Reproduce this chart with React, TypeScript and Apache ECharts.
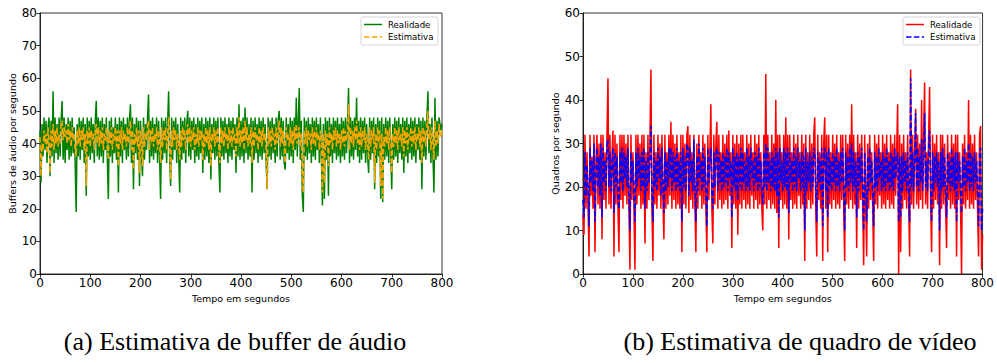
import React, { useEffect, useRef } from "react";
import * as echarts from "echarts";

// Sampling instants (seconds), one every 2 s from 0 to 800
const seconds: number[] = Array.from({ length: 401 }, (_, i) => i * 2);

// (a) audio buffers per second — real
const audioReal: number[] = [
  44, 28, 46, 36, 48, 38, 47, 34, 45, 48, 30, 47, 36, 56, 34, 48, 37, 46, 35, 48,
  36, 47, 53, 35, 48, 34, 46, 38, 48, 35, 47, 36, 48, 37, 45, 34, 19, 46, 36, 48,
  35, 47, 38, 48, 34, 46, 24, 48, 36, 47, 35, 48, 37, 46, 34, 47, 53, 36, 48, 35,
  47, 36, 48, 34, 46, 38, 48, 35, 23, 47, 36, 48, 34, 45, 37, 48, 35, 46, 25, 48,
  36, 47, 34, 48, 38, 46, 35, 48, 36, 47, 52, 34, 48, 26, 46, 37, 48, 35, 47, 27,
  47, 36, 30, 48, 35, 46, 38, 48, 55, 34, 47, 36, 48, 35, 46, 37, 48, 34, 47, 36,
  23, 48, 35, 47, 37, 48, 34, 46, 56, 36, 27, 48, 35, 47, 38, 48, 34, 46, 36, 25,
  48, 35, 47, 37, 48, 34, 46, 50, 36, 48, 35, 47, 38, 48, 34, 46, 36, 48, 35, 47,
  37, 48, 31, 46, 35, 48, 36, 47, 34, 48, 29, 46, 37, 48, 35, 47, 36, 48, 34, 25,
  48, 36, 47, 35, 48, 37, 46, 34, 48, 36, 47, 35, 48, 38, 46, 31, 48, 36, 52, 35,
  47, 36, 48, 34, 51, 37, 48, 35, 46, 36, 48, 25, 47, 35, 48, 37, 46, 34, 48, 36,
  47, 35, 48, 37, 46, 34, 26, 48, 36, 47, 35, 48, 37, 46, 34, 48, 36, 47, 50, 35,
  48, 36, 47, 34, 32, 48, 37, 46, 35, 48, 36, 47, 34, 48, 38, 54, 36, 47, 57, 35,
  47, 24, 19, 48, 36, 47, 35, 48, 37, 46, 34, 48, 36, 47, 35, 48, 38, 46, 34, 48,
  36, 21, 46, 23, 48, 35, 47, 24, 48, 36, 46, 34, 48, 37, 47, 35, 48, 36, 46, 34,
  48, 36, 47, 35, 48, 37, 46, 57, 34, 48, 36, 47, 35, 48, 38, 54, 36, 47, 34, 48,
  35, 47, 37, 48, 34, 46, 36, 31, 48, 35, 47, 37, 48, 26, 46, 34, 48, 36, 47, 23,
  48, 22, 46, 35, 48, 36, 47, 34, 48, 37, 26, 46, 35, 48, 36, 47, 34, 48, 37, 46,
  35, 48, 31, 47, 36, 48, 34, 46, 37, 48, 35, 47, 36, 48, 34, 46, 38, 48, 35, 47,
  26, 48, 36, 47, 35, 48, 56, 37, 46, 34, 48, 36, 25, 54, 35, 47, 36, 48, 46, 44,
  46,
];
// (a) audio buffers per second — estimate
const audioEst: number[] = [
  42, 30, 40, 38, 44, 40, 43, 37, 45, 41, 31, 44, 39, 46, 38, 44, 40, 45, 39, 43,
  40, 46, 47, 41, 45, 42, 44, 40, 46, 41, 44, 39, 45, 41, 43, 38, 36, 44, 40, 45,
  39, 44, 41, 45, 38, 43, 27, 44, 40, 45, 39, 44, 41, 43, 38, 44, 46, 40, 45, 39,
  44, 40, 45, 38, 43, 41, 45, 39, 35, 44, 40, 45, 38, 43, 41, 45, 39, 44, 33, 44,
  40, 45, 38, 44, 41, 43, 39, 45, 40, 44, 47, 38, 44, 32, 43, 40, 45, 39, 44, 31,
  44, 40, 33, 45, 39, 43, 41, 45, 47, 38, 44, 40, 45, 39, 43, 41, 45, 38, 44, 40,
  34, 45, 39, 44, 41, 45, 38, 43, 48, 40, 29, 44, 39, 45, 41, 44, 38, 43, 40, 35,
  44, 39, 45, 41, 44, 38, 43, 46, 40, 45, 39, 44, 41, 45, 38, 43, 40, 45, 39, 44,
  41, 44, 35, 43, 39, 45, 40, 44, 38, 45, 33, 43, 41, 45, 39, 44, 40, 45, 38, 34,
  45, 40, 44, 39, 45, 41, 43, 38, 45, 40, 44, 39, 45, 41, 43, 36, 45, 40, 48, 39,
  44, 40, 45, 38, 47, 41, 45, 39, 43, 40, 45, 34, 44, 39, 45, 41, 43, 38, 45, 40,
  44, 39, 45, 41, 43, 38, 26, 45, 40, 44, 39, 45, 41, 43, 38, 45, 40, 44, 47, 39,
  45, 40, 44, 38, 34, 45, 41, 43, 39, 45, 40, 44, 38, 45, 41, 46, 40, 44, 45, 39,
  43, 30, 25, 44, 40, 45, 39, 44, 41, 43, 38, 45, 40, 44, 39, 45, 41, 43, 38, 44,
  40, 25, 43, 28, 44, 39, 43, 33, 45, 40, 43, 38, 44, 41, 45, 39, 44, 40, 43, 38,
  44, 40, 45, 39, 44, 41, 43, 52, 38, 45, 40, 44, 39, 45, 41, 47, 40, 44, 38, 45,
  39, 44, 41, 45, 38, 43, 40, 35, 45, 39, 44, 41, 45, 28, 43, 38, 45, 40, 44, 27,
  43, 23, 42, 39, 45, 40, 44, 38, 45, 41, 31, 43, 39, 45, 40, 44, 38, 45, 41, 43,
  39, 45, 36, 44, 40, 45, 38, 43, 41, 45, 39, 44, 40, 45, 38, 43, 41, 45, 39, 44,
  34, 45, 40, 44, 39, 45, 50, 41, 44, 38, 45, 40, 35, 47, 39, 44, 40, 46, 43, 42,
  44,
];

// (b) video frames per second — real
const videoReal: number[] = [
  14, 9, 32, 15, 28, 16, 4, 32, 18, 27, 15, 32, 5, 26, 32, 16, 30, 15, 32, 8,
  32, 17, 28, 15, 32, 45, 16, 32, 15, 27, 33, 4, 32, 16, 30, 15, 5, 32, 17, 32,
  15, 32, 18, 30, 16, 32, 15, 1, 32, 17, 28, 15, 1, 32, 16, 32, 18, 30, 15, 32,
  16, 32, 7, 28, 15, 32, 17, 30, 47, 15, 3, 32, 16, 28, 15, 32, 18, 30, 15, 32,
  17, 8, 32, 15, 28, 16, 32, 18, 35, 15, 32, 17, 30, 15, 32, 16, 28, 15, 32, 5,
  32, 16, 30, 15, 32, 34, 14, 32, 17, 28, 15, 32, 16, 5, 30, 15, 32, 18, 28, 15,
  32, 16, 30, 15, 5, 32, 17, 28, 39, 15, 7, 32, 16, 30, 35, 15, 32, 17, 28, 15,
  32, 16, 30, 17, 32, 15, 33, 18, 28, 6, 32, 16, 30, 15, 32, 9, 30, 16, 32, 15,
  32, 17, 28, 15, 32, 16, 30, 15, 32, 18, 28, 15, 32, 17, 30, 15, 32, 16, 28, 15,
  10, 32, 16, 46, 15, 32, 17, 28, 15, 32, 16, 30, 15, 40, 14, 32, 6, 32, 17, 28,
  15, 32, 16, 36, 15, 32, 8, 32, 17, 28, 15, 32, 16, 30, 15, 32, 18, 28, 15, 32,
  16, 30, 3, 32, 15, 28, 17, 32, 15, 30, 16, 32, 36, 15, 4, 32, 17, 28, 15, 32,
  3, 30, 36, 15, 32, 5, 32, 16, 28, 15, 32, 17, 30, 15, 32, 16, 28, 15, 32, 17,
  32, 15, 3, 32, 16, 30, 15, 32, 17, 39, 15, 32, 16, 28, 6, 32, 15, 30, 17, 32,
  15, 2, 32, 16, 4, 30, 15, 32, 17, 28, 15, 3, 32, 16, 30, 15, 32, 18, 28, 15,
  32, 16, 30, 15, 32, 17, 28, 15, 32, 16, 30, 15, 32, 18, 28, 39, 0, 32, 5, 30,
  15, 32, 17, 28, 15, 32, 16, 4, 47, 16, 32, 15, 28, 38, 16, 32, 15, 30, 17, 40,
  15, 32, 44, 16, 28, 15, 32, 43, 16, 5, 32, 15, 30, 17, 32, 16, 28, 2, 32, 15,
  32, 16, 30, 15, 6, 32, 17, 28, 15, 32, 16, 30, 15, 32, 4, 32, 17, 28, 15, 0,
  30, 16, 32, 15, 28, 17, 40, 15, 32, 16, 30, 15, 32, 17, 28, 15, 4, 32, 34, 1,
  9,
];
// (b) video frames per second — estimate
const videoEst: number[] = [
  17, 13, 28, 18, 25, 20, 11, 29, 21, 26, 19, 30, 12, 24, 29, 20, 27, 18, 30, 13,
  29, 21, 26, 19, 30, 31, 20, 28, 19, 25, 29, 14, 28, 20, 27, 18, 15, 28, 21, 29,
  19, 28, 22, 27, 20, 29, 18, 10, 28, 21, 26, 19, 12, 28, 20, 29, 22, 27, 19, 28,
  20, 29, 15, 26, 19, 28, 21, 27, 34, 19, 12, 28, 20, 26, 19, 29, 22, 27, 18, 29,
  21, 14, 28, 19, 26, 20, 29, 22, 29, 19, 28, 21, 27, 19, 29, 20, 26, 19, 28, 12,
  29, 20, 27, 19, 30, 29, 18, 29, 21, 26, 19, 31, 20, 12, 27, 19, 30, 22, 26, 19,
  29, 20, 27, 19, 11, 29, 21, 26, 29, 19, 15, 28, 20, 27, 29, 19, 28, 21, 26, 19,
  28, 20, 27, 21, 29, 19, 28, 22, 26, 13, 29, 20, 27, 19, 28, 17, 27, 20, 29, 19,
  28, 21, 26, 19, 29, 20, 27, 19, 29, 22, 26, 19, 28, 21, 27, 19, 29, 20, 26, 19,
  16, 28, 20, 30, 19, 29, 21, 26, 19, 28, 20, 27, 19, 29, 18, 28, 13, 29, 21, 26,
  19, 29, 20, 28, 19, 29, 14, 28, 21, 26, 19, 29, 20, 27, 19, 29, 22, 26, 19, 28,
  20, 27, 10, 29, 19, 26, 21, 28, 19, 27, 20, 29, 28, 19, 12, 28, 21, 26, 19, 29,
  11, 27, 29, 19, 28, 13, 29, 20, 26, 19, 28, 21, 27, 19, 29, 20, 26, 19, 28, 21,
  29, 19, 10, 28, 20, 27, 19, 29, 21, 30, 19, 28, 20, 26, 13, 28, 19, 27, 21, 29,
  19, 10, 28, 20, 12, 27, 19, 29, 21, 26, 19, 11, 28, 20, 27, 19, 29, 22, 26, 19,
  28, 20, 27, 19, 29, 21, 26, 19, 28, 20, 27, 19, 29, 22, 26, 28, 12, 27, 13, 27,
  19, 28, 21, 26, 19, 28, 20, 12, 45, 20, 28, 19, 26, 37, 20, 29, 19, 27, 21, 31,
  19, 28, 37, 20, 26, 19, 29, 33, 20, 12, 28, 19, 27, 21, 28, 20, 26, 10, 28, 19,
  29, 20, 27, 19, 13, 28, 21, 26, 19, 29, 20, 27, 19, 28, 12, 28, 21, 26, 19, 14,
  27, 20, 29, 19, 26, 21, 30, 19, 28, 20, 27, 19, 28, 21, 26, 19, 11, 28, 29, 10,
  15,
];

const xTicks = { min: 0, max: 800, interval: 100 };
const audioAxis = { min: 0, max: 80, interval: 10 };
const videoAxis = { min: 0, max: 60, interval: 10 };

const seriesNames = ["Realidade", "Estimativa"];
const xTitle = "Tempo em segundos";
const yTitleA = "Buffers de áudio por segundo";
const yTitleB = "Quadros por segundo";
const captionA = "(a) Estimativa de buffer de áudio";
const captionB = "(b) Estimativa de quadro de vídeo";

const FONT = "DejaVu Sans";
const DASH = [5.5, 2.4];

function pairs(vals: number[]) {
  return vals.map((v, i) => [seconds[i], v]);
}

function xAxisCfg(gridIndex: number) {
  return {
    type: "value",
    gridIndex,
    min: xTicks.min,
    max: xTicks.max,
    interval: xTicks.interval,
    name: xTitle,
    nameLocation: "middle",
    nameGap: 15,
    nameTextStyle: { fontFamily: FONT, fontSize: 9.5, color: "#000" },
    axisLine: { show: true, lineStyle: { color: "#000", width: 0.8 } },
    axisTick: { show: true, length: 3.5, lineStyle: { color: "#000", width: 0.8 } },
    axisLabel: { fontFamily: FONT, fontSize: 12, color: "#000", margin: 3 },
    splitLine: { show: false },
  };
}

function yAxisCfg(gridIndex: number, ax: any, title: string) {
  return {
    type: "value",
    gridIndex,
    min: ax.min,
    max: ax.max,
    interval: ax.interval,
    name: title,
    nameLocation: "middle",
    nameGap: 20,
    nameTextStyle: { fontFamily: FONT, fontSize: 9.5, color: "#000" },
    axisLine: { show: true, lineStyle: { color: "#000", width: 0.8 } },
    axisTick: { show: true, length: 3.5, lineStyle: { color: "#000", width: 0.8 } },
    axisLabel: { fontFamily: FONT, fontSize: 12, color: "#000", margin: 3 },
    splitLine: { show: false },
  };
}

function legendBox(x: number, y: number, c1: string, c2: string) {
  return {
    type: "group",
    x,
    y,
    z: 100,
    children: [
      {
        type: "rect",
        shape: { x: 0, y: 0, width: 77, height: 28, r: 2 },
        style: { fill: "rgba(255,255,255,0.8)", stroke: "#cccccc", lineWidth: 0.8 },
      },
      {
        type: "line",
        shape: { x1: 3, y1: 7.5, x2: 21, y2: 7.5 },
        style: { stroke: c1, lineWidth: 1.5 },
      },
      {
        type: "line",
        shape: { x1: 3, y1: 20, x2: 21, y2: 20 },
        style: { stroke: c2, lineWidth: 1.5, lineDash: DASH },
      },
      {
        type: "text",
        x: 27,
        y: 7.5,
        style: { text: seriesNames[0], fontFamily: FONT, fontSize: 8.6, fill: "#000", textVerticalAlign: "middle" },
      },
      {
        type: "text",
        x: 27,
        y: 20,
        style: { text: seriesNames[1], fontFamily: FONT, fontSize: 8.6, fill: "#000", textVerticalAlign: "middle" },
      },
    ],
  };
}

export default function App() {
  const ref = useRef<HTMLDivElement>(null);
  useEffect(() => {
    if (!ref.current) return;
    const chart = echarts.init(ref.current, undefined, { renderer: "svg" });
    const option: any = {
      animation: false,
      backgroundColor: "#fff",
      grid: [
        { left: 40, top: 13, width: 402, height: 261, show: true, borderColor: "#000", borderWidth: 0.8, containLabel: false },
        { left: 583, top: 13, width: 402, height: 261, show: true, borderColor: "#000", borderWidth: 0.8, containLabel: false },
      ],
      xAxis: [xAxisCfg(0), xAxisCfg(1)],
      yAxis: [yAxisCfg(0, audioAxis, yTitleA), yAxisCfg(1, videoAxis, yTitleB)],
      series: [
        {
          name: seriesNames[0], type: "line", xAxisIndex: 0, yAxisIndex: 0, symbol: "none",
          data: pairs(audioReal), lineStyle: { color: "#008000", width: 1.5 }, itemStyle: { color: "#008000" },
        },
        {
          name: seriesNames[1], type: "line", xAxisIndex: 0, yAxisIndex: 0, symbol: "none",
          data: pairs(audioEst), lineStyle: { color: "#FFA500", width: 1.5, type: DASH }, itemStyle: { color: "#FFA500" },
        },
        {
          name: seriesNames[0], type: "line", xAxisIndex: 1, yAxisIndex: 1, symbol: "none",
          data: pairs(videoReal), lineStyle: { color: "#FF0000", width: 1.5 }, itemStyle: { color: "#FF0000" },
        },
        {
          name: seriesNames[1], type: "line", xAxisIndex: 1, yAxisIndex: 1, symbol: "none",
          data: pairs(videoEst), lineStyle: { color: "#0000FF", width: 1.5, type: DASH }, itemStyle: { color: "#0000FF" },
        },
      ],
      graphic: [
        legendBox(361, 17, "#008000", "#FFA500"),
        legendBox(903, 17, "#FF0000", "#0000FF"),
        {
          type: "text", x: 235, y: 341,
          style: { text: captionA, fontFamily: "Liberation Serif", fontSize: 26, fill: "#000", textAlign: "center", textVerticalAlign: "middle" },
        },
        {
          type: "text", x: 800, y: 341,
          style: { text: captionB, fontFamily: "Liberation Serif", fontSize: 26, fill: "#000", textAlign: "center", textVerticalAlign: "middle" },
        },
      ],
    };
    chart.setOption(option);
    return () => chart.dispose();
  }, []);
  return (
    <div
      ref={ref}
      style={{ position: "fixed", left: 0, top: 0, width: 997, height: 363, background: "#fff" }}
    />
  );
}
